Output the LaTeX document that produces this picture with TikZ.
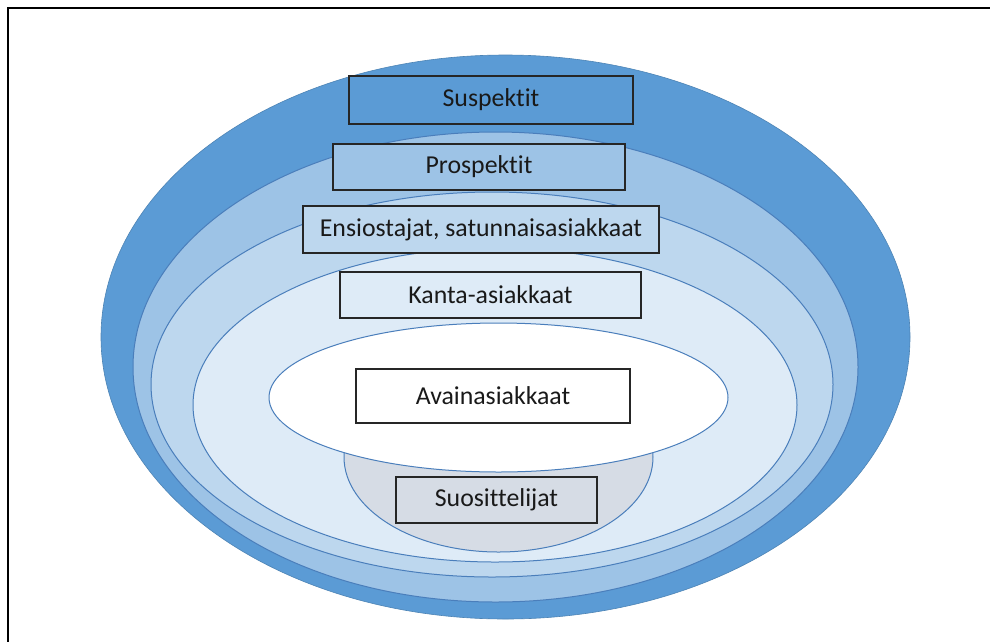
\documentclass[tikz,border=0pt]{standalone}
\usepackage{fontspec}
\setmainfont{Carlito}[Ligatures={NoCommon}]
\definecolor{cOne}{HTML}{5B9BD5}
\definecolor{cTwo}{HTML}{9DC3E6}
\definecolor{cThree}{HTML}{BDD7EE}
\definecolor{cFour}{HTML}{DEEBF7}
\definecolor{cGray}{HTML}{D6DCE5}
\definecolor{ringline}{HTML}{4A7EBB}
\definecolor{boxline}{HTML}{262626}
\begin{document}
\begin{tikzpicture}[x=1pt,y=-1pt,
  ring/.style={draw=ringline,line width=1pt},
  tier/.style={draw=boxline,line width=1.5pt,rectangle,inner sep=0pt,
    font=\fontsize{25.8}{28}\selectfont,text=black!90}]
\useasboundingbox (0,0) rectangle (990,641);
\fill[white] (0,0) rectangle (990,641);
% frame
\draw[line width=2pt,black] (8,642) -- (8,8) -- (991,8);
% rings
\fill[cOne] (505.5,337) ellipse [x radius=404.5pt, y radius=282pt];
\draw[ring,draw=cOne!85!black,line width=0.6pt] (505.5,337) ellipse [x radius=404.5pt, y radius=282pt];
\filldraw[ring,fill=cTwo] (495.5,367) ellipse [x radius=362.5pt, y radius=235pt];
\filldraw[ring,fill=cThree] (492,384.5) ellipse [x radius=341pt, y radius=192.5pt];
\filldraw[ring,fill=cFour] (495,405) ellipse [x radius=302pt, y radius=157pt];
\filldraw[ring,fill=cGray] (498.5,457) ellipse [x radius=154.5pt, y radius=95pt];
\filldraw[ring,fill=white] (498.5,397.5) ellipse [x radius=229.5pt, y radius=74.5pt];
% tier boxes
\node[tier,fill=cOne,minimum width=284pt,minimum height=48pt] (susp) at (491,100) {Suspektit};
\node[tier,fill=cTwo,minimum width=292pt,minimum height=46pt] (prosp) at (479,167) {Prospektit};
\node[tier,fill=cThree,minimum width=356pt,minimum height=47pt] (ensi) at (481,229.5) {Ensiostajat, satunnaisasiakkaat};
\node[tier,fill=cFour,minimum width=301pt,minimum height=46pt] (kanta) at (490.5,295) {Kanta-asiakkaat};
\node[tier,fill=white,minimum width=274pt,minimum height=54pt] (avain) at (493,396) {Avainasiakkaat};
\node[tier,fill=cGray,minimum width=201pt,minimum height=46pt] (suos) at (496.5,500) {Suosittelijat};
\end{tikzpicture}
\end{document}
